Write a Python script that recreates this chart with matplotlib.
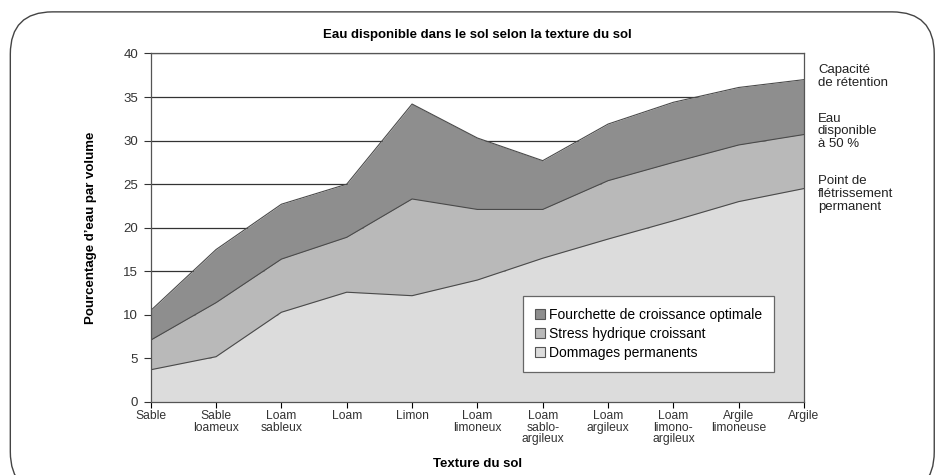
import matplotlib
matplotlib.use("Agg")
import matplotlib.pyplot as plt
from matplotlib.patches import FancyBboxPatch

textures = ["Sable", "Sable\nloameux", "Loam\nsableux", "Loam", "Limon", "Loam\nlimoneux",
            "Loam\nsablo-\nargileux", "Loam\nargileux", "Loam\nlimono-\nargileux",
            "Argile\nlimoneuse", "Argile"]
# cumulative levels (% water by volume)
fletrissement = [3.7, 5.2, 10.3, 12.6, 12.2, 14.0, 16.5, 18.7, 20.8, 23.0, 24.5]
dispo_50 = [7.1, 11.4, 16.4, 18.9, 23.3, 22.1, 22.1, 25.4, 27.5, 29.5, 30.7]
retention = [10.5, 17.5, 22.7, 25.0, 34.2, 30.3, 27.7, 31.9, 34.4, 36.1, 37.0]

plt.rcParams["font.family"] = ["Liberation Sans", "DejaVu Sans"]

fig = plt.figure(figsize=(9.38, 4.75), dpi=100)
box = FancyBboxPatch((0.011, -0.04), 0.985, 1.015, boxstyle="round,pad=0,rounding_size=0.045",
                     transform=fig.transFigure, fc="none", ec="#444", lw=1.0,
                     mutation_aspect=938 / 475, zorder=-1)
fig.patches.append(box)

ax = fig.add_axes([0.1607, 0.1537, 0.6965, 0.7337])
x = list(range(len(textures)))
edge = "#4a4a4a"
ax.fill_between(x, 0, fletrissement, color="#dcdcdc", lw=0, zorder=2,
                label="Dommages permanents")
ax.fill_between(x, fletrissement, dispo_50, color="#b9b9b9", lw=0, zorder=2,
                label="Stress hydrique croissant")
ax.fill_between(x, dispo_50, retention, color="#8e8e8e", lw=0, zorder=2,
                label="Fourchette de croissance optimale")
for ys in (fletrissement, dispo_50, retention):
    ax.plot(x, ys, color=edge, lw=0.8, zorder=3)

for y in range(5, 41, 5):
    ax.axhline(y, color="#333", lw=0.9, zorder=1)

ax.set_xlim(0, 10)
ax.set_ylim(0, 40)
ax.set_yticks(range(0, 41, 5))
ax.set_xticks(x)
ax.set_xticklabels(textures, fontsize=8.7, color="#333", linespacing=0.95)
ax.tick_params(axis="y", labelsize=9.5, colors="#333", length=5, width=0.8, pad=4)
ax.tick_params(axis="x", length=4, width=0.8, pad=2)
for s in ax.spines.values():
    s.set_color("#555")
    s.set_linewidth(0.9)
ax.spines["left"].set_zorder(4)
ax.spines["bottom"].set_zorder(4)

ax.set_ylabel("Pourcentage d\u2019eau par volume", fontsize=9.5, fontweight="bold", labelpad=19)
ax.set_xlabel("Texture du sol", fontsize=9.5, fontweight="bold", labelpad=9)
ax.set_title("Eau disponible dans le sol selon la texture du sol", fontsize=9.5,
             fontweight="bold", pad=11)

handles, labels = ax.get_legend_handles_labels()
leg = ax.legend(handles[::-1], labels[::-1], loc="lower left",
                bbox_to_anchor=(0.57, 0.087), fontsize=10, frameon=True, fancybox=False,
                facecolor="white", framealpha=1, edgecolor="#666", handlelength=0.7,
                handleheight=0.7, handletextpad=0.3, borderpad=0.85, labelspacing=0.35,
                borderaxespad=0)
leg.get_frame().set_linewidth(0.9)
for h in leg.legend_handles:
    h.set_edgecolor("#555")
    h.set_linewidth(0.8)
leg.set_zorder(5)

notes = [("Capacité\nde rétention", 0.866), ("Eau\ndisponible\nà 50 %", 0.763),
         ("Point de\nflétrissement\npermanent", 0.632)]
for txt, yf in notes:
    fig.text(0.872, yf, txt, fontsize=9.5, color="#222", va="top", ha="left", linespacing=1.1)

fig.savefig("out.png", dpi=100)
